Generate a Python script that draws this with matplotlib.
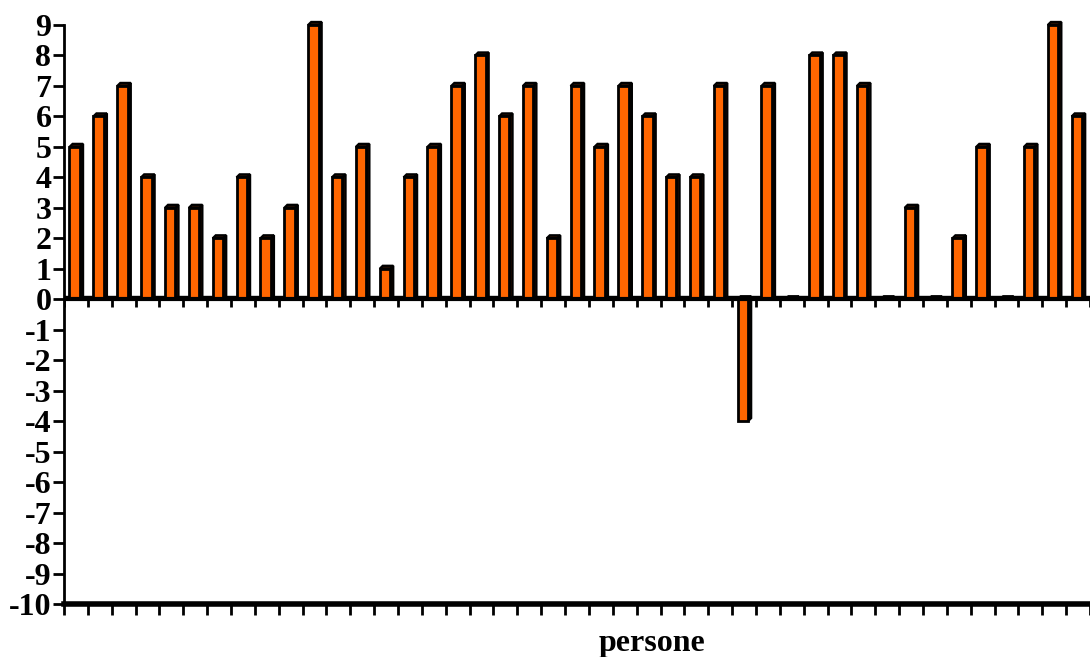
import numpy as np
import matplotlib
matplotlib.use("Agg")
from matplotlib import pyplot as plt
from matplotlib.patches import Polygon

plt.rcParams["font.family"] = ["Liberation Serif", "DejaVu Serif"]
plt.rcParams["font.weight"] = "bold"
plt.rcParams["axes.unicode_minus"] = False

# one bar per person
values = [5, 6, 7, 4, 3, 3, 2, 4, 2, 3, 9, 4, 5, 1, 4, 5, 7, 8, 6, 7, 2, 7,
          5, 7, 6, 4, 4, 7, -4, 7, 0, 8, 8, 7, 0, 3, 0, 2, 5, 0, 5, 9, 6]
y_ticks = list(range(-10, 10))
x_label = "persone"

front = "#ff6600"
side = "#2a1000"
w = 0.44       # front face width (categories)
off = -0.05    # front face shift from category centre
dx, dy = 0.13, 0.1   # fake 3d depth

fig = plt.figure(figsize=(10.9, 6.57), dpi=100)
ax = fig.add_axes([64 / 1090, 1 - 604 / 657, 1 - 64 / 1090, (604 - 25) / 657])

x = np.arange(len(values))
bars = ax.bar(x + off, values, width=w, color=front, edgecolor="black",
              linewidth=2.0, zorder=3, clip_on=False)

# side and top faces
for b in bars:
    x0 = b.get_x()
    x1 = x0 + b.get_width()
    y0 = b.get_y()
    y1 = y0 + b.get_height()
    top = max(y0, y1)
    bot = min(y0, y1)
    ax.add_patch(Polygon([(x1, bot), (x1 + dx, bot + dy), (x1 + dx, top + dy), (x1, top)],
                         closed=True, facecolor=side, edgecolor="black", lw=1.6,
                         zorder=2, clip_on=False))
    ax.add_patch(Polygon([(x0, top), (x0 + dx, top + dy), (x1 + dx, top + dy), (x1, top)],
                         closed=True, facecolor=side, edgecolor="black", lw=1.6,
                         zorder=2, clip_on=False))

edges = np.arange(len(values) + 1) - 0.5

# floor edge and zero line with its own ticks
ax.axhline(dy, color="black", lw=1, zorder=1)
ax.axhline(0, color="black", lw=3, zorder=4)
ax.vlines(edges, -0.27, 0, color="black", lw=2, zorder=4)

ax.set_xlim(-0.5, 42.25)
ax.set_ylim(-10, 9)
ax.set_yticks(y_ticks)
ax.set_yticklabels([str(t) for t in y_ticks])
ax.set_xticks(edges)
ax.set_xticklabels([])

for s in ["top", "right"]:
    ax.spines[s].set_visible(False)
ax.spines["left"].set_linewidth(2)
ax.spines["bottom"].set_linewidth(4)
ax.tick_params(axis="y", direction="out", length=8, width=2, labelsize=23, pad=1)
ax.tick_params(axis="x", direction="out", length=8, width=2)

fig.text(652 / 1090, 1 - 643 / 657, x_label, ha="center", va="center",
         fontsize=23, fontweight="bold")

fig.savefig("out.png", dpi=100)
